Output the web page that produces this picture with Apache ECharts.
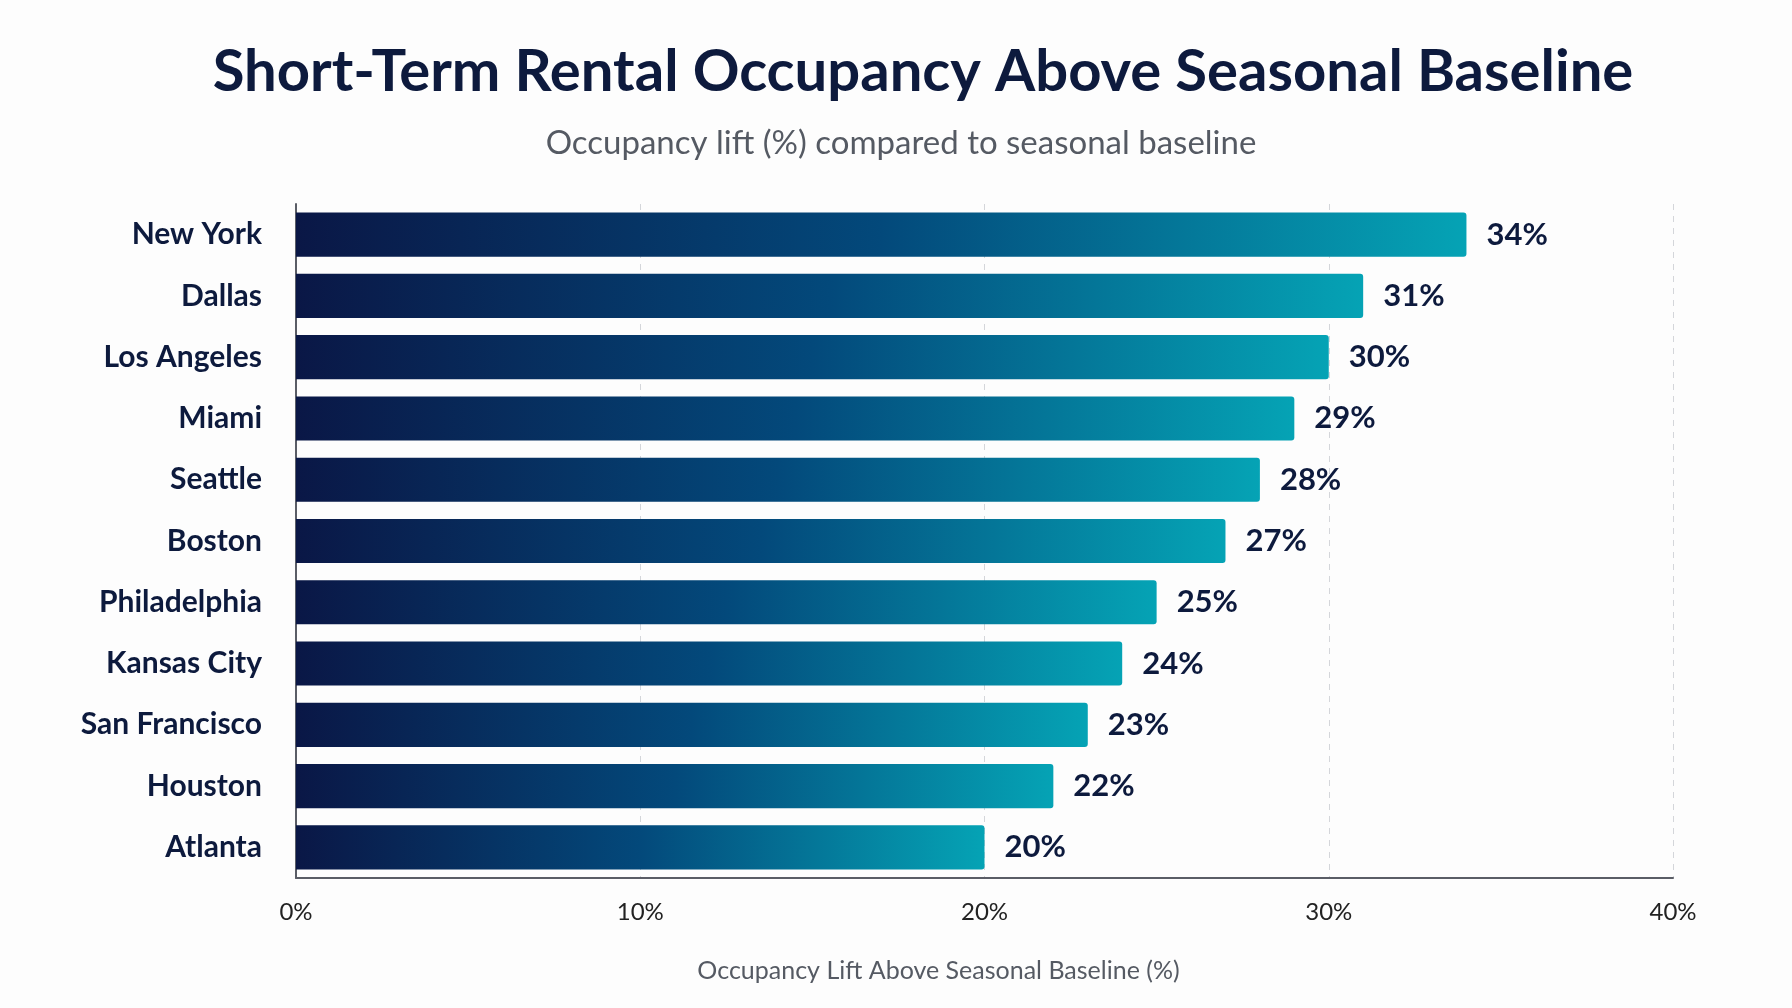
<!DOCTYPE html>
<html>
<head>
<meta charset="utf-8">
<script src="https://cdn.jsdelivr.net/npm/echarts@6/dist/echarts.min.js"></script>
<style>
  html, body { margin: 0; padding: 0; background: #fdfdfd; }
  #main { width: 1792px; height: 1008px; }
</style>
</head>
<body>
<div id="main"></div>
<script>
// city order top -> bottom
const cities = ['New York', 'Dallas', 'Los Angeles', 'Miami', 'Seattle', 'Boston',
  'Philadelphia', 'Kansas City', 'San Francisco', 'Houston', 'Atlanta'];
const lift = [34, 31, 30, 29, 28, 27, 25, 24, 23, 22, 20];
const xTicks = [0, 10, 20, 30, 40];

const FONT = 'Lato, "Noto Sans", sans-serif';
const navy = '#0d1a3d';

const chart = echarts.init(document.getElementById('main'));

const barColor = new echarts.graphic.LinearGradient(0, 0, 1, 0, [
  { offset: 0, color: '#0a1746' },
  { offset: 0.5, color: '#03497b' },
  { offset: 1, color: '#05a3b5' }
]);

const option = {
  backgroundColor: '#fdfdfd',
  animation: false,
  title: [{
    text: 'Short-Term Rental Occupancy Above Seasonal Baseline',
    left: 918,
    top: 38,
    textAlign: 'center',
    textStyle: {
      fontFamily: FONT,
      fontWeight: 'bold',
      fontSize: 58,
      color: navy
    }
  }, {
    text: 'Occupancy lift (%) compared to seasonal baseline',
    left: 896,
    top: 122,
    textAlign: 'center',
    textStyle: {
      fontFamily: FONT,
      fontWeight: 'normal',
      fontSize: 33,
      color: '#555a63'
    }
  }],
  grid: {
    left: 296,
    right: 119,
    top: 204,
    bottom: 130
  },
  xAxis: {
    type: 'value',
    min: 0,
    max: 40,
    interval: 10,
    name: 'Occupancy Lift Above Seasonal Baseline (%)',
    nameLocation: 'middle',
    nameGap: 80,
    nameTextStyle: {
      fontFamily: FONT,
      fontSize: 25,
      color: '#555a63',
      padding: [0, 92, 0, 0]
    },
    axisLine: { show: true, lineStyle: { color: '#5a5d66', width: 2 } },
    axisTick: { show: false },
    axisLabel: {
      fontFamily: FONT,
      fontSize: 24,
      color: '#222',
      margin: 22,
      formatter: v => xTicks.includes(v) ? v + '%' : ''
    },
    splitLine: {
      show: true,
      lineStyle: { color: '#d4d6da', type: [6, 6], width: 1 }
    }
  },
  yAxis: {
    type: 'category',
    data: cities,
    inverse: true,
    axisLine: { show: true, lineStyle: { color: '#5a5d66', width: 2 } },
    axisTick: { show: false },
    axisLabel: {
      fontFamily: FONT,
      fontSize: 30,
      fontWeight: 'bold',
      color: navy,
      margin: 34
    }
  },
  series: [{
    type: 'bar',
    data: lift,
    barCategoryGap: '28%',
    itemStyle: {
      color: barColor,
      borderRadius: [0, 3, 3, 0]
    },
    label: {
      show: true,
      position: 'right',
      distance: 20,
      formatter: '{c}%',
      fontFamily: FONT,
      fontSize: 31,
      fontWeight: 'bold',
      color: navy
    }
  }]
};

chart.setOption(option);
</script>
</body>
</html>
